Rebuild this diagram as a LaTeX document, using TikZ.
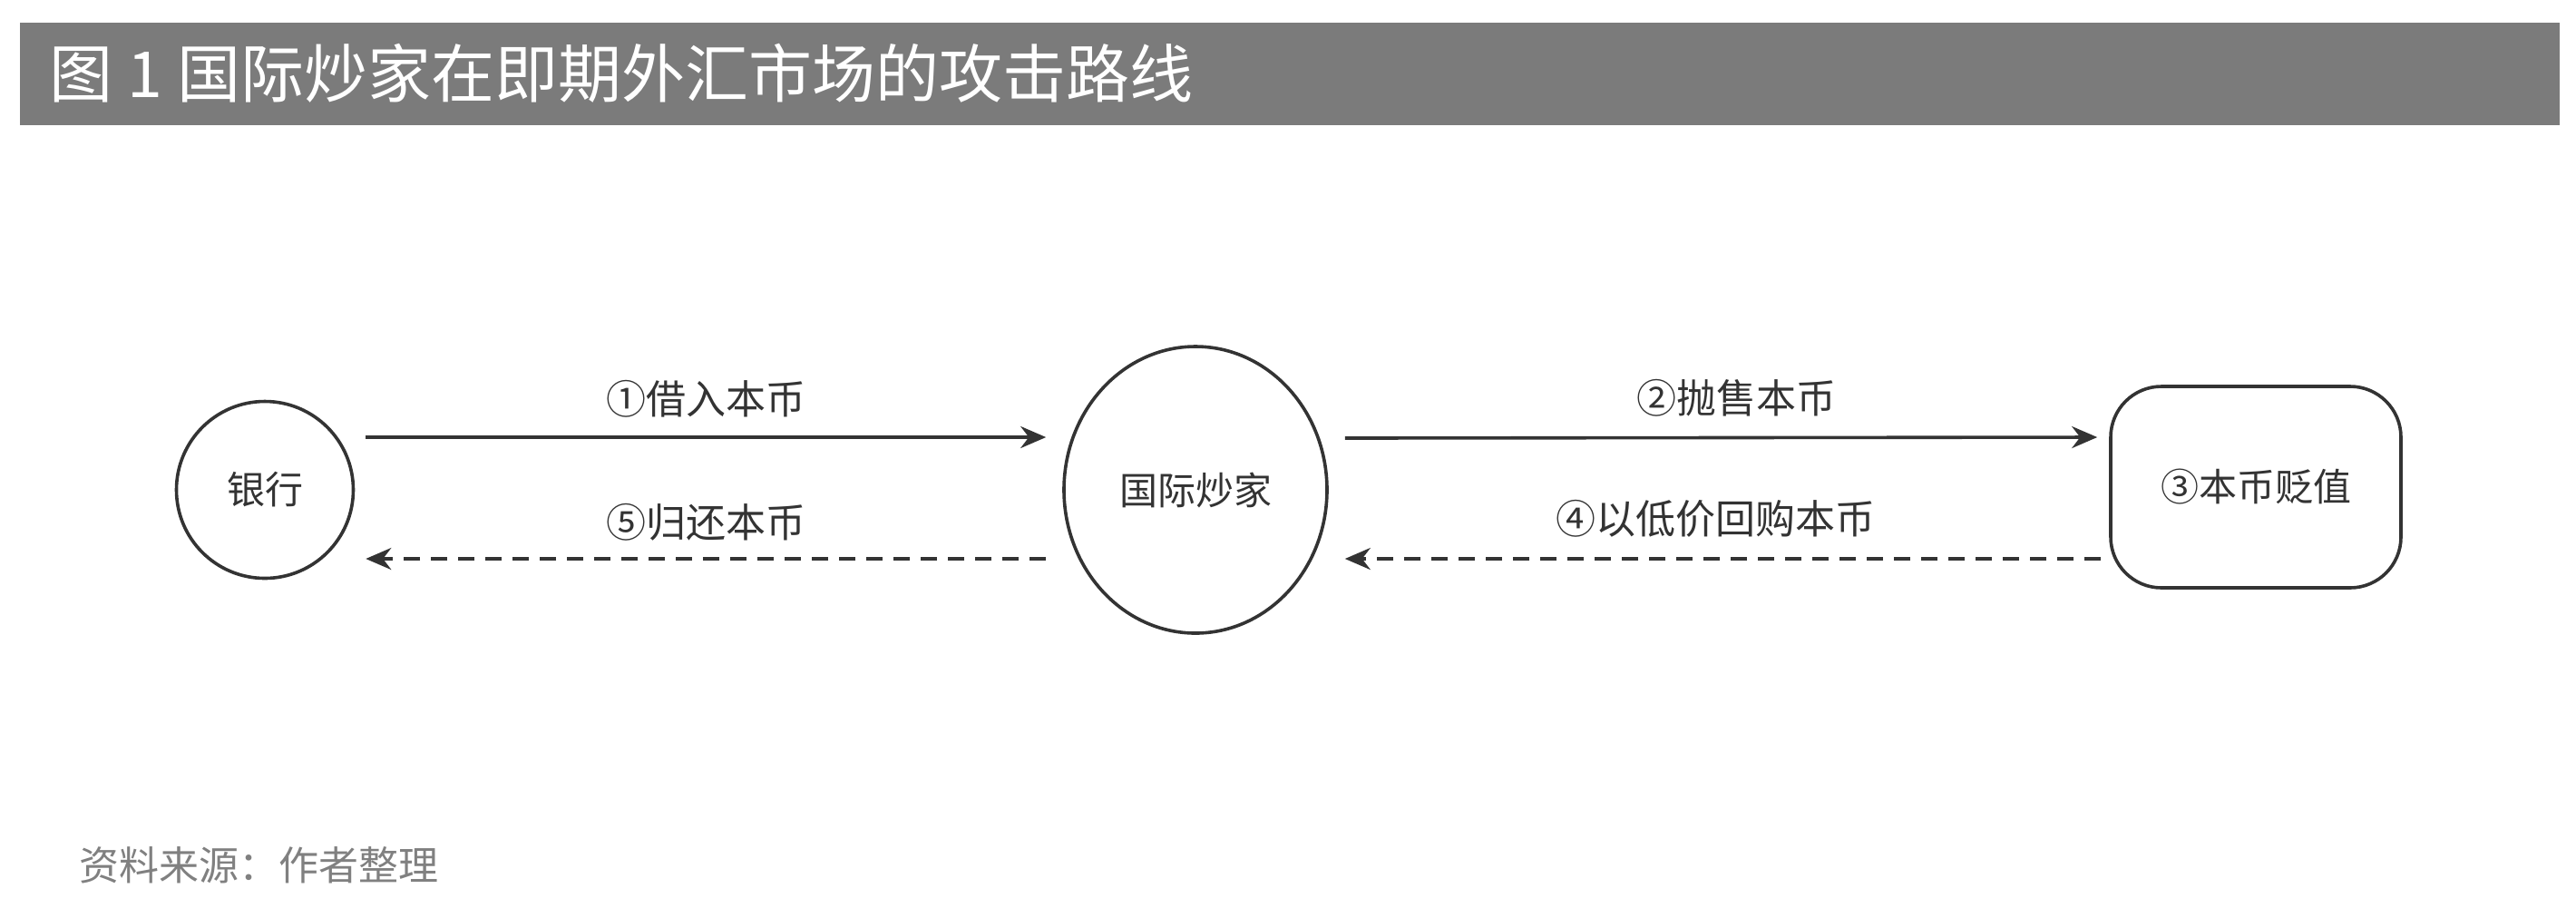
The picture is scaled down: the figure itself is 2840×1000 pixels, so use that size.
\documentclass[tikz,border=0pt]{standalone}
\usepackage{fontspec}
\setmainfont{Noto Sans CJK SC}
\usetikzlibrary{calc,arrows.meta,shapes.geometric}
\definecolor{barcol}{HTML}{7B7B7B}
\definecolor{ink}{HTML}{333333}
\definecolor{srccol}{HTML}{808080}
\begin{document}
\begin{tikzpicture}[x=0.25pt,y=-0.25pt,
  shp/.style={draw=ink, line width=0.9pt, text=ink, font=\fontsize{10.5}{12}\selectfont, inner sep=0pt},
  lbl/.style={text=ink, font=\fontsize{11}{13}\selectfont, inner sep=0pt},
  arr/.style={draw=ink, line width=0.9pt, -{Stealth[length=7pt,width=6pt]}},
  dsh/.style={arr, dash pattern=on 4.5pt off 3pt}]
\useasboundingbox[fill=white] (0,0) rectangle (2840,1000);
\fill[barcol] (22,25) rectangle (2822,138);
\node[anchor=west, text=white, font=\fontsize{17.5}{20}\selectfont, inner sep=0pt] (title) at (54,81) {图 1 国际炒家在即期外汇市场的攻击路线};
\node[shp, circle, minimum size=48.75pt] (bank) at (292,540) {银行};
\node[shp, ellipse, minimum width=72.5pt, minimum height=79pt] (spec) at (1318,540) {国际炒家};
\node[shp, rectangle, rounded corners=14pt, minimum width=80pt, minimum height=55.5pt] (dev) at (2487,537) {③本币贬值};
\coordinate (a1s) at ($(bank.east)+(12,-58)$);
\coordinate (a1e) at ($(spec.west)+(-18,-58)$);
\coordinate (a5s) at ($(spec.west)+(-18,76)$);
\coordinate (a5e) at ($(bank.east)+(12,76)$);
\coordinate (a2s) at ($(spec.east)+(18,-57)$);
\coordinate (a2e) at ($(dev.west)+(-13,-55)$);
\coordinate (a4s) at ($(dev.west)+(-9,79)$);
\coordinate (a4e) at ($(spec.east)+(18,76)$);
\draw[arr] (a1s) -- (a1e) node[lbl, midway, yshift=10.5pt] (l1) {①借入本币};
\draw[dsh] (a5s) -- (a5e) node[lbl, midway, yshift=10pt] (l5) {⑤归还本币};
\draw[arr] (a2s) -- (a2e) node[lbl, pos=0.52, yshift=11pt] (l2) {②抛售本币};
\draw[dsh] (a4s) -- (a4e) node[lbl, pos=0.51, yshift=11pt] (l4) {④以低价回购本币};
\node[anchor=west, text=srccol, font=\fontsize{11}{13}\selectfont, inner sep=0pt] (src) at (87,954) {资料来源：作者整理};
\end{tikzpicture}
\end{document}
